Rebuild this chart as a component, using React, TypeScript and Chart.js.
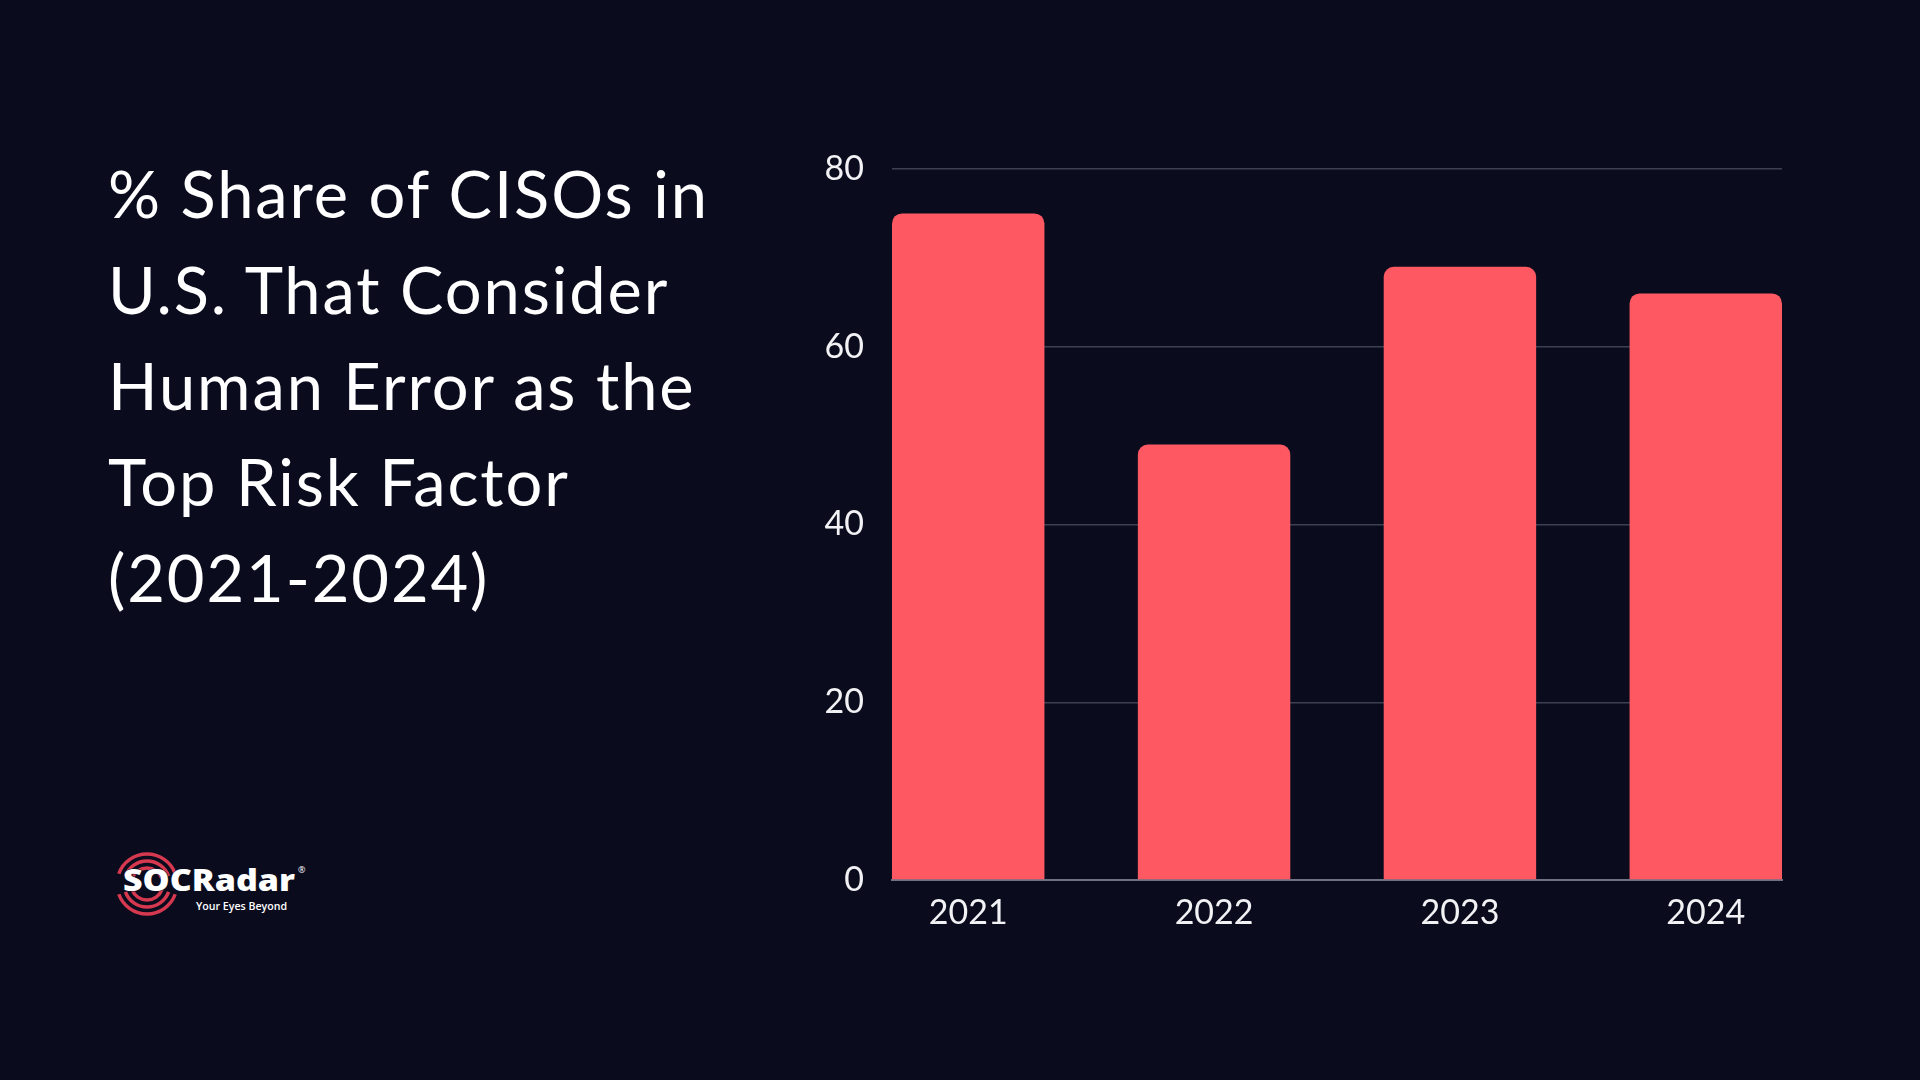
import React, { useEffect, useRef } from "react";
import { Chart, registerables } from "chart.js";

Chart.register(...registerables);

const years: string[] = ["2021", "2022", "2023", "2024"];
const shareValues: number[] = [75, 49, 69, 66];
const yTicks: number[] = [0, 20, 40, 60, 80];
const titleLines: string[] = [
  "% Share of CISOs in",
  "U.S. That Consider",
  "Human Error as the",
  "Top Risk Factor",
  "(2021-2024)",
];

const BG = "#0a0c1e";
const BAR = "#fe5863";
const FONT = "Lato, 'Open Sans', sans-serif";

function BarChart() {
  const ref = useRef<HTMLCanvasElement | null>(null);
  useEffect(() => {
    if (!ref.current) return;
    const half = 0.31;
    const chart = new Chart(ref.current, {
      type: "bar",
      data: {
        datasets: [
          {
            label: "Share",
            data: shareValues.map((v, i) => ({ x: i, y: v })),
            backgroundColor: BAR,
            borderRadius: 10,
            borderSkipped: "bottom",
            categoryPercentage: 0.62,
            barPercentage: 1,
          },
        ],
      },
      options: {
        animation: false,
        responsive: false,
        maintainAspectRatio: false,
        layout: { padding: { top: 49, right: 18, left: 0, bottom: 0 } },
        plugins: { legend: { display: false }, tooltip: { enabled: false } },
        scales: {
          x: {
            type: "linear",
            min: -half,
            max: years.length - 1 + half,
            offset: false,
            afterBuildTicks: (scale: any) => {
              scale.ticks = years.map((_, i) => ({ value: i }));
            },
            afterFit: (scale: any) => {
              scale.height = 80;
            },
            grid: { display: false, offset: false, drawTicks: false },
            border: { display: true, color: "#6f7184", width: 2 },
            ticks: {
              color: "#f2f2f5",
              font: { family: FONT, size: 34, weight: 400 },
              padding: 13,
              autoSkip: false,
              maxRotation: 0,
              callback: (v: any) => years[Number(v)] ?? "",
            },
          },
          y: {
            min: 0,
            max: 80,
            afterBuildTicks: (scale: any) => {
              scale.ticks = yTicks.map((v) => ({ value: v }));
            },
            afterFit: (scale: any) => {
              scale.width = 132;
            },
            grid: {
              color: "#3d3f53",
              lineWidth: 1.5,
              drawTicks: false,
            },
            border: { display: false },
            ticks: {
              color: "#f2f2f5",
              font: { family: FONT, size: 34, weight: 400 },
              padding: 28,
            },
          },
        },
      },
    } as any);
    return () => chart.destroy();
  }, []);
  return (
    <canvas
      ref={ref}
      width={1040}
      height={840}
      style={{ position: "absolute", left: 760, top: 120, width: 1040, height: 840 }}
    />
  );
}

function Logo() {
  const arcColor = "#d5384f";
  const cx = 37;
  const cy = 44;
  const radii = [16, 23, 30];
  const arc = (r: number, a0: number, a1: number) => {
    const rad = (d: number) => (d * Math.PI) / 180;
    const x0 = cx + r * Math.cos(rad(a0));
    const y0 = cy + r * Math.sin(rad(a0));
    const x1 = cx + r * Math.cos(rad(a1));
    const y1 = cy + r * Math.sin(rad(a1));
    return `M ${x0} ${y0} A ${r} ${r} 0 0 1 ${x1} ${y1}`;
  };
  return (
    <svg
      width={200}
      height={80}
      viewBox="0 0 200 80"
      style={{ position: "absolute", left: 110, top: 840 }}
    >
      {radii.map((r) => (
        <g key={r}>
          <path d={arc(r, 200, 340)} stroke={arcColor} strokeWidth={3.5} fill="none" />
          <path d={arc(r, 20, 160)} stroke={arcColor} strokeWidth={3.5} fill="none" />
        </g>
      ))}
      <text
        x={13}
        y={51}
        fill="#ffffff"
        fontFamily="'Open Sans', sans-serif"
        fontWeight={800}
        fontSize={30}
        textLength={172}
        lengthAdjust="spacingAndGlyphs"
        stroke={BG}
        strokeWidth={1}
        paintOrder="stroke"
      >
        SOCRadar
      </text>
      <text x={188} y={33} fill="#ffffff" fontFamily="'Open Sans', sans-serif" fontSize={9}>
        ®
      </text>
      <text
        x={86}
        y={70}
        fill="#ffffff"
        fontFamily="'Open Sans', sans-serif"
        fontWeight={600}
        fontSize={11}
        textLength={91}
        lengthAdjust="spacingAndGlyphs"
      >
        Your Eyes Beyond
      </text>
    </svg>
  );
}

export default function App() {
  useEffect(() => {
    document.body.style.margin = "0";
    document.body.style.background = BG;
  }, []);
  return (
    <div
      style={{
        position: "relative",
        width: 1920,
        height: 1080,
        background: BG,
        overflow: "hidden",
        fontFamily: FONT,
      }}
    >
      <div
        style={{
          position: "absolute",
          left: 108,
          top: 145,
          color: "#ffffff",
          fontSize: 65,
          lineHeight: "96px",
          fontWeight: 400,
          whiteSpace: "nowrap",
          letterSpacing: "1.9px",
        }}
      >
        {titleLines.map((l, i) => (
          <div key={i}>{l}</div>
        ))}
      </div>
      <Logo />
      <BarChart />
    </div>
  );
}
